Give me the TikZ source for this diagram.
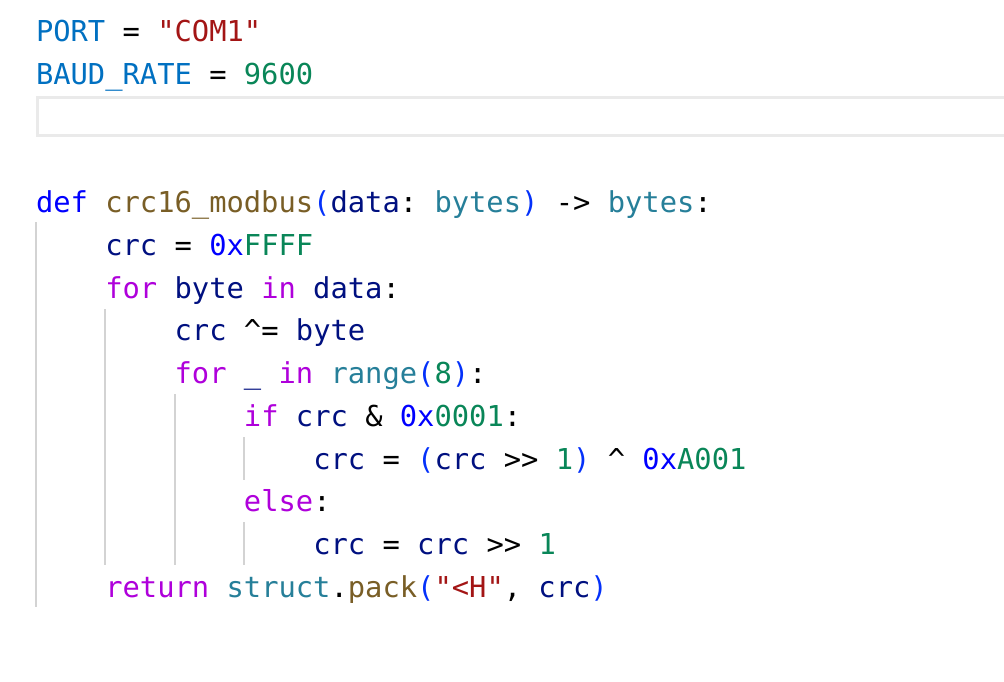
\documentclass[tikz,border=0pt]{standalone}
\usepackage{fontspec}
\setmonofont{DejaVu Sans Mono}
\definecolor{cconst}{HTML}{0070C1}
\definecolor{cstr}{HTML}{A31515}
\definecolor{cnum}{HTML}{098658}
\definecolor{ckw}{HTML}{0000FF}
\definecolor{cfn}{HTML}{795E26}
\definecolor{cbr}{HTML}{0431FA}
\definecolor{cvar}{HTML}{001080}
\definecolor{ctype}{HTML}{267F99}
\definecolor{cctrl}{HTML}{AF00DB}
\definecolor{cguide}{HTML}{D3D3D3}
\definecolor{cbox}{HTML}{EAEAEA}
\newcommand\codefont{\ttfamily\fontsize{28.78pt}{34pt}\selectfont}
\newcommand\tkC[1]{\textcolor{cconst}{#1}}
\newcommand\tkS[1]{\textcolor{cstr}{#1}}
\newcommand\tkN[1]{\textcolor{cnum}{#1}}
\newcommand\tkK[1]{\textcolor{ckw}{#1}}
\newcommand\tkF[1]{\textcolor{cfn}{#1}}
\newcommand\tkB[1]{\textcolor{cbr}{#1}}
\newcommand\tkV[1]{\textcolor{cvar}{#1}}
\newcommand\tkT[1]{\textcolor{ctype}{#1}}
\newcommand\tkR[1]{\textcolor{cctrl}{#1}}
\begin{document}
\begin{tikzpicture}[x=1pt,y=-1pt,
  code/.style={anchor=base west, inner sep=0pt, outer sep=0pt, font=\codefont, text=black},
  guide/.style={draw=cguide, line width=2pt},
  curline/.style={draw=cbox, line width=3pt}]
\fill[white] (0,0) rectangle (1004,682);
\useasboundingbox (0,0) rectangle (1004,682);
% current line highlight
\draw[curline] (1012,97.5) -- (37.5,97.5) -- (37.5,135.5) -- (1012,135.5);
% indent guides
\draw[guide] (36,222) -- (36,607);
\draw[guide] (105.3,309) -- (105.3,565);
\draw[guide] (174.6,394) -- (174.6,565);
\draw[guide] (244,437) -- (244,480);
\draw[guide] (244,522) -- (244,565);
% code lines
\node[code] (l1) at (36,41.5) {\tkC{PORT} = \tkS{"COM1"}};
\node[code] (l2) at (36,84.25) {\tkC{BAUD\_RATE} = \tkN{9600}};
\node[code] (l5) at (36,212.5) {\tkK{def} \tkF{crc16\_modbus}\tkB{(}\tkV{data}: \tkT{bytes}\tkB{)} -> \tkT{bytes}:};
\node[code] (l6) at (105.32,255.25) {\tkV{crc} = \tkK{0x}\tkN{FFFF}};
\node[code] (l7) at (105.32,298) {\tkR{for} \tkV{byte} \tkR{in} \tkV{data}:};
\node[code] (l8) at (174.64,340.75) {\tkV{crc} \textasciicircum= \tkV{byte}};
\node[code] (l9) at (174.64,383.5) {\tkR{for} \tkV{\_} \tkR{in} \tkT{range}\tkB{(}\tkN{8}\tkB{)}:};
\node[code] (l10) at (243.96,426.25) {\tkR{if} \tkV{crc} \& \tkK{0x}\tkN{0001}:};
\node[code] (l11) at (313.28,469) {\tkV{crc} = \tkB{(}\tkV{crc} >> \tkN{1}\tkB{)} \textasciicircum{} \tkK{0x}\tkN{A001}};
\node[code] (l12) at (243.96,511.75) {\tkR{else}:};
\node[code] (l13) at (313.28,554.5) {\tkV{crc} = \tkV{crc} >> \tkN{1}};
\node[code] (l14) at (105.32,597.25) {\tkR{return} \tkT{struct}.\tkF{pack}\tkB{(}\tkS{"<H"}, \tkV{crc}\tkB{)}};
\end{tikzpicture}
\end{document}
